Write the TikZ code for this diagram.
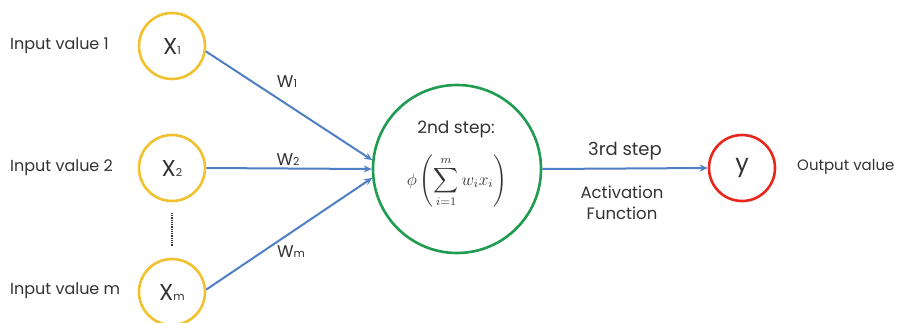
\documentclass[tikz,border=0pt]{standalone}
\usepackage{fontspec}
\setmainfont{Poppins}
\usepackage{amsmath}
\usepackage{graphicx}
\usetikzlibrary{arrows.meta}
\definecolor{gold}{HTML}{F2C12E}
\definecolor{lineblue}{HTML}{4F7FC4}
\definecolor{sgreen}{HTML}{1F9C50}
\definecolor{ored}{HTML}{E8261C}
\definecolor{txt}{HTML}{333333}
\begin{document}
\begin{tikzpicture}[x=1pt,y=-1pt,
  inpt/.style={circle,draw=gold,line width=2.6pt,minimum size=66pt,inner sep=0pt,text=txt,font=\fontsize{23}{25}\selectfont},
  lbl/.style={text=txt,font=\fontsize{16}{18}\selectfont,inner sep=0pt},
  wlbl/.style={text=txt,font=\fontsize{17}{18}\selectfont,inner sep=0pt},
  conn/.style={draw=lineblue,line width=2pt},
  arr/.style={conn,-{Stealth[length=8pt,width=7pt]}}]
\useasboundingbox (0,0) rectangle (899,322);
\fill[white] (0,0) rectangle (899,322);
\newcommand{\smsub}[1]{{\fontsize{11}{12}\selectfont #1}}
\node[inpt] (x1) at (172,46) {X\smsub{1}};
\node[inpt] (x2) at (172,168) {X\smsub{2}};
\node[inpt] (xm) at (172,292) {X\smsub{m}};
\node[lbl,anchor=west] (l1) at (10,46) {Input value 1};
\node[lbl,anchor=west] (l2) at (10,168) {Input value 2};
\node[lbl,anchor=west] (lm) at (10,291) {Input value m};
\coordinate (d1) at (172,213);
\coordinate (d2) at (172,246);
\draw[txt,line width=1.2pt,dash pattern=on 1pt off 0.8pt] (d1) -- (d2);
\node[circle,draw=sgreen,line width=2.6pt,minimum size=168pt,inner sep=0pt] (s) at (457,169) {};
\node[text=txt,font=\fontsize{17}{19}\selectfont,inner sep=0pt] (st2) at (456,129) {2nd step:};
\node[text=txt,inner sep=0pt,font=\fontsize{12}{14}\selectfont] (f) at (457,181) {\scalebox{1.45}{$\displaystyle \phi\left(\sum_{i=1}^{m} w_i x_i\right)$}};
\node[circle,draw=ored,line width=2.6pt,minimum size=66pt,inner sep=0pt,text=txt,font=\fontsize{24}{26}\selectfont] (y) at (742,168) {y};
\node[text=txt,font=\fontsize{15}{17}\selectfont,inner sep=0pt,anchor=west] (ov) at (797,167) {Output value};
\draw[arr] (x1.-9) -- (s.174);
\draw[arr] (x2.east) -- (s.180);
\draw[arr] (xm.4) -- (s.186);
\draw[arr] (s.east) -- (y.west);
\node[wlbl] (w1) at (287,82) {W\smsub{1}};
\node[wlbl] (w2) at (288,160) {W\smsub{2}};
\node[wlbl] (wm) at (291,252) {W\smsub{m}};
\node[text=txt,font=\fontsize{18}{20}\selectfont,inner sep=0pt] (s3) at (625,151) {3rd step};
\node[text=txt,font=\fontsize{16.5}{21}\selectfont,inner sep=0pt,align=center] (af) at (622,203) {Activation\\Function};
\end{tikzpicture}
\end{document}
